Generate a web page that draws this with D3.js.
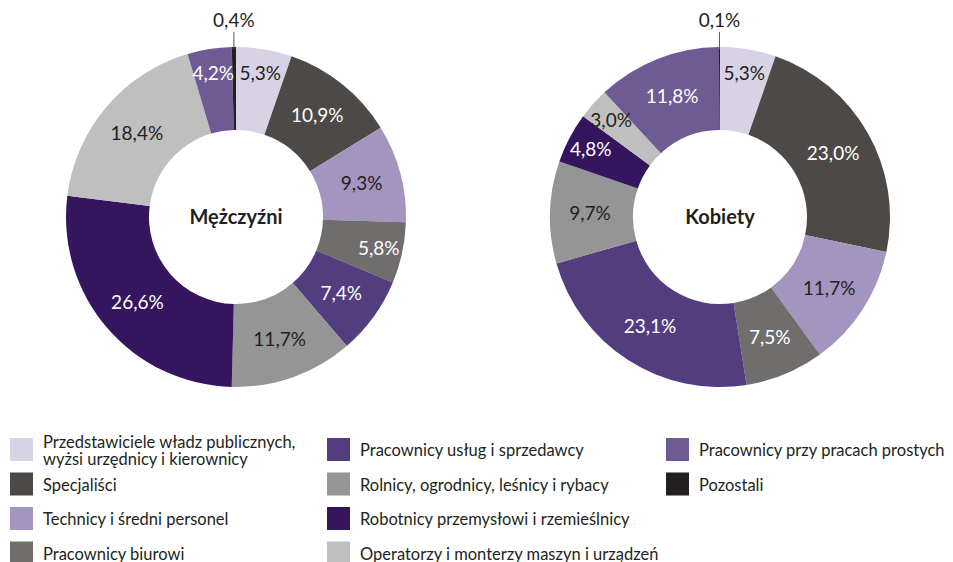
<!DOCTYPE html>
<html><head><meta charset="utf-8">
<script src="https://cdn.jsdelivr.net/npm/d3@7"></script>
<style>body{margin:0;background:#fff}svg{display:block}text{font-family:Lato,"Open Sans",sans-serif}</style>
</head><body><svg id="c" width="953" height="562"></svg>
<script>
const categories = [
  "Przedstawiciele władz publicznych,|wyżsi urzędnicy i kierownicy",
  "Specjaliści",
  "Technicy i średni personel",
  "Pracownicy biurowi",
  "Pracownicy usług i sprzedawcy",
  "Rolnicy, ogrodnicy, leśnicy i rybacy",
  "Robotnicy przemysłowi i rzemieślnicy",
  "Operatorzy i monterzy maszyn i urządzeń",
  "Pracownicy przy pracach prostych",
  "Pozostali"
];
const menValues   = [5.3, 10.9, 9.3, 5.8, 7.4, 11.7, 26.6, 18.4, 4.2, 0.4];
const womenValues = [5.3, 23.0, 11.7, 7.5, 23.1, 9.7, 4.8, 3.0, 11.8, 0.1];
const panelTitles = ["Mężczyźni", "Kobiety"];

const colors = ["#d8d2e5","#4d4946","#a395bf","#6f6e6d","#533d7f","#959595","#35165e","#bfbfbf","#6e5b93","#231f20"];
const labelColors = ["#231f20","#ffffff","#231f20","#ffffff","#ffffff","#231f20","#ffffff","#231f20","#ffffff","#231f20"];

const svg = d3.select("#c");
const color = d3.scaleOrdinal().domain(d3.range(categories.length)).range(colors);
const fmt = v => d3.format(".1f")(v).replace(".", ",") + "%";

const outerR = 170, innerR = 87;
const pie = d3.pie().sort(null).value(d => d.v);
const arc = d3.arc().innerRadius(innerR).outerRadius(outerR);

function drawDonut(values, cx, cy, title) {
  const g = svg.append("g").attr("transform", `translate(${cx},${cy})`);
  const arcs = pie(values.map((v, i) => ({v, i})));
  g.selectAll("path").data(arcs).join("path")
    .attr("d", arc).attr("fill", d => color(d.data.i));
  arcs.forEach(d => {
    const v = d.data.v;
    const mid = (d.startAngle + d.endAngle) / 2;
    if (v < 1) {
      const x = Math.sin(mid) * outerR;
      g.append("line").attr("x1", x).attr("x2", x)
        .attr("y1", -outerR + 2).attr("y2", -outerR - 15)
        .attr("stroke", "#595959").attr("stroke-width", 1);
      g.append("text").attr("x", x).attr("y", -outerR - 20)
        .attr("text-anchor", "middle").attr("font-size", 19).attr("fill", "#231f20")
        .text(fmt(v));
      return;
    }
    const r = v < 6.5 ? 146 : 130;
    const x = Math.sin(mid) * r, y = -Math.cos(mid) * r;
    g.append("text").attr("x", x).attr("y", y).attr("dy", "0.36em")
      .attr("text-anchor", "middle").attr("font-size", 19)
      .attr("fill", labelColors[d.data.i]).text(fmt(v));
  });
  g.append("text").attr("x", 0).attr("y", 0).attr("dy", "0.36em")
    .attr("text-anchor", "middle").attr("font-size", 20).attr("font-weight", "bold")
    .attr("fill", "#231f20").text(title);
}

drawDonut(menValues, 236, 217, panelTitles[0]);
drawDonut(womenValues, 720, 217, panelTitles[1]);

// legend
const colX = [10, 327, 666];
const rowY = [449.5, 484, 518.5, 553];
const perCol = 4;
const lg = svg.append("g");
categories.forEach((c, i) => {
  const col = Math.floor(i / perCol), row = i % perCol;
  const x = colX[col], y = rowY[row];
  lg.append("rect").attr("x", x).attr("y", y - 11.5).attr("width", 23).attr("height", 23)
    .attr("fill", color(i));
  const lines = c.split("|");
  const t = lg.append("text").attr("font-size", 16.5).attr("fill", "#231f20");
  if (lines.length === 1) {
    t.append("tspan").attr("x", x + 33).attr("y", y + 6.5).text(lines[0]);
  } else {
    lines.forEach((l, k) => t.append("tspan").attr("x", x + 33).attr("y", y - 2 + k * 17.5).text(l));
  }
});
</script></body></html>
